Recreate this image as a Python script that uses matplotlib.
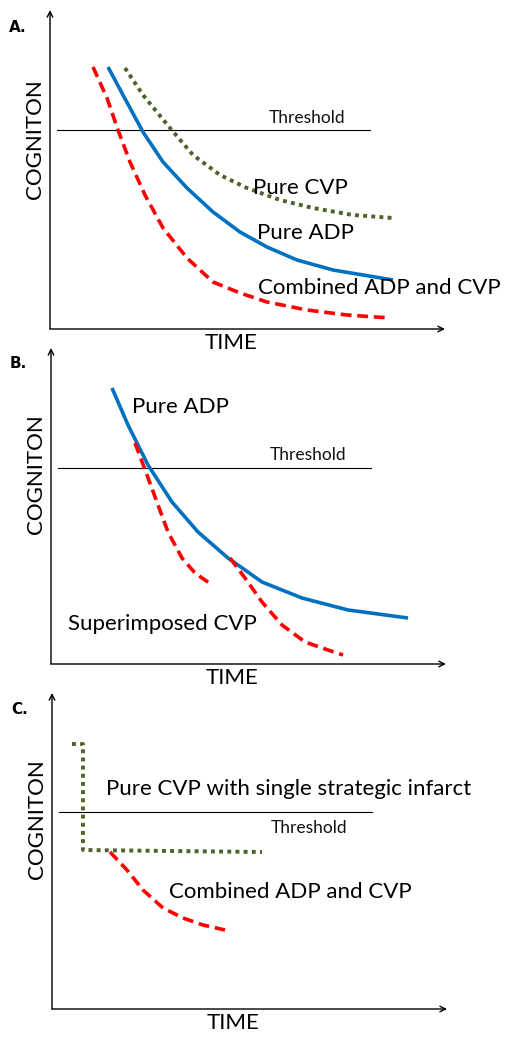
import matplotlib.pyplot as plt

plt.rcParams['font.family'] = ['Lato', 'DejaVu Sans']

W, H = 512, 1041

# --- panel A: curves (x = time, y = cognition)
a_combined_x = [43, 57, 68, 80, 95, 113, 137, 163, 190, 217, 257, 297, 340]
a_combined_y = [262, 231, 199, 167, 134, 101, 71, 47, 36, 27, 19, 14, 11]
a_adp_x = [58, 73, 93, 113, 137, 163, 190, 217, 247, 283, 343]
a_adp_y = [262, 234, 197, 167, 141, 117, 97, 82, 69, 59, 49]
a_cvp_x = [75, 93, 120, 143, 170, 197, 230, 263, 303, 343]
a_cvp_y = [261, 234, 201, 174, 154, 141, 129, 121, 114, 111]

# --- panel B
b_adp_x = [61, 77, 97, 121, 147, 177, 211, 251, 297, 357]
b_adp_y = [276, 239, 199, 162, 132, 106, 82, 66, 54, 46]
b_cvp1_x = [84, 96, 107, 117, 131, 144, 161]
b_cvp1_y = [221, 189, 159, 132, 106, 91, 79]
b_cvp2_x = [179, 194, 211, 231, 254, 277, 292]
b_cvp2_y = [106, 86, 62, 39, 22, 14, 9]

# --- panel C
c_cvp_x = [20, 31, 31, 210]
c_cvp_y = [265, 265, 159, 157]
c_combined_x = [58, 75, 91, 111, 131, 151, 173]
c_combined_y = [157, 139, 119, 101, 91, 84, 79]

thresholds = [199, 196, 197]

RED = '#FF0000'
BLUE = '#0070C0'
GREEN = '#4F6228'

fig = plt.figure(figsize=(W / 100, H / 100), dpi=100)


def make_panel(ox, oy, ytop, thr, thr_text_y, letter, letter_y, xtop=395):
    # axes covering the whole width; 1 data unit = 1 pixel, origin at the axis corner
    ax = fig.add_axes([0, (H - oy - 30) / H, 1, 360 / H])
    ax.set_xlim(-ox, W - ox)
    ax.set_ylim(-30, 330)
    ax.axis('off')
    arrow = dict(arrowstyle='->', lw=1, color='black', shrinkA=0, shrinkB=0,
                 mutation_scale=10)
    ax.annotate('', xy=(0, ytop), xytext=(0, 0), arrowprops=arrow)
    ax.annotate('', xy=(xtop, 0), xytext=(0, 0), arrowprops=arrow)
    ax.plot([7, 320], [thr, thr], color='black', lw=0.8)
    ax.text(219, thr_text_y, 'Threshold', fontsize=12.5, va='center', color='#111111')
    ax.text(-15, 190, 'COGNITON', fontsize=16, rotation=90, ha='center', va='center')
    ax.text(181, -14, 'TIME', fontsize=16, ha='center', va='center')
    ax.text(-41, letter_y, letter, fontsize=11, fontweight='bold',
            family='DejaVu Sans', va='center')
    return ax


dash = dict(color=RED, lw=2.6, dashes=[3, 1.6], solid_joinstyle='round')
dots = dict(color=GREEN, lw=2.8, dashes=[1, 1.1])
solid = dict(color=BLUE, lw=2.6, solid_capstyle='butt', solid_joinstyle='round')

# Panel A
ax = make_panel(50, 329, 319, thresholds[0], 211, 'A.', 302)
ax.plot(a_cvp_x, a_cvp_y, **dots)
ax.plot(a_adp_x, a_adp_y, **solid)
ax.plot(a_combined_x, a_combined_y, **dash)
ax.text(203, 141, 'Pure CVP', fontsize=16, va='center')
ax.text(207, 96, 'Pure ADP', fontsize=16, va='center')
ax.text(208, 41, 'Combined ADP and CVP', fontsize=16, va='center')

# Panel B
ax = make_panel(51, 664, 316, thresholds[1], 209, 'B.', 300)
ax.plot(b_adp_x, b_adp_y, **solid)
ax.plot(b_cvp1_x, b_cvp1_y, **dash)
ax.plot(b_cvp2_x, b_cvp2_y, **dash)
ax.text(81, 257, 'Pure ADP', fontsize=16, va='center')
ax.text(17, 40, 'Superimposed CVP', fontsize=16, va='center')

# Panel C
ax = make_panel(52, 1009, 316, thresholds[2], 181, 'C.', 299)
ax.plot(c_cvp_x, c_cvp_y, **dots)
ax.plot(c_combined_x, c_combined_y, **dash)
ax.text(54, 220, 'Pure CVP with single strategic infarct', fontsize=16, va='center')
ax.text(117, 117, 'Combined ADP and CVP', fontsize=16, va='center')

fig.savefig('out.png', dpi=100, facecolor='white')
